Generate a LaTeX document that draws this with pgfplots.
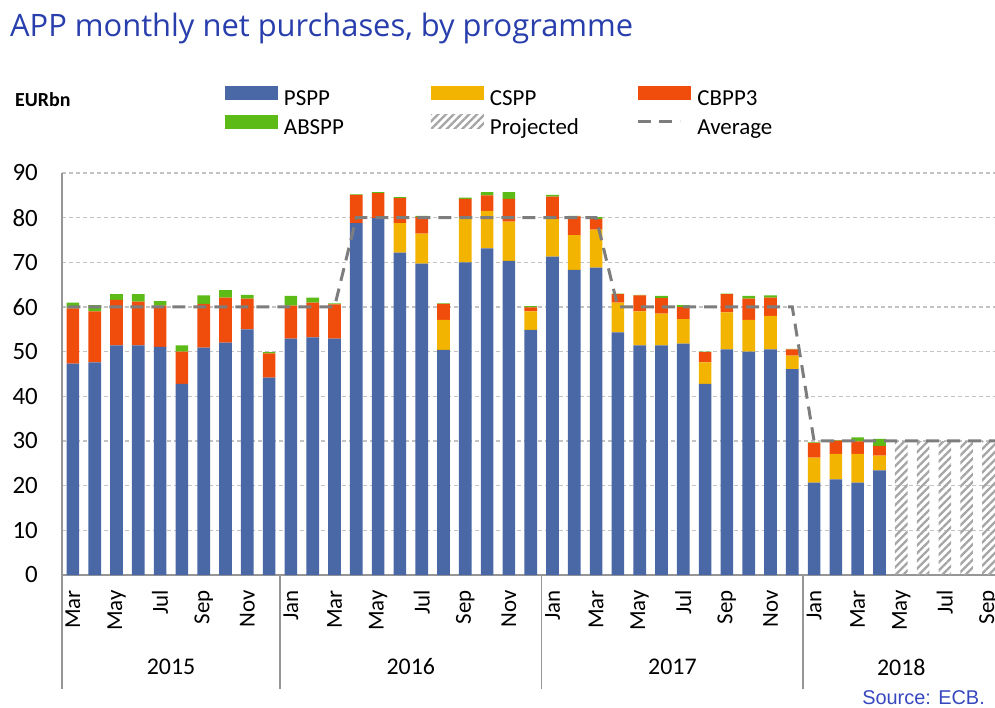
\documentclass[border=0pt]{standalone}
\usepackage{fontspec}
\setmainfont{Carlito}
\newfontfamily\titlefont{Open Sans}
\newfontfamily\srcfont{Liberation Sans}
\usepackage{pgfplots}
\pgfplotsset{compat=1.18}
\usepackage{pgfplotstable}
\usetikzlibrary{patterns.meta}

\definecolor{psppc}{RGB}{74,103,166}
\definecolor{csppc}{RGB}{243,180,0}
\definecolor{cbppc}{RGB}{240,76,12}
\definecolor{absppc}{RGB}{92,187,22}
\definecolor{hatchc}{RGB}{165,165,165}
\definecolor{avgc}{RGB}{125,125,125}
\definecolor{gridc}{RGB}{195,195,195}
\definecolor{axisc}{RGB}{150,150,150}
\definecolor{titleblue}{RGB}{40,62,172}
\definecolor{srcblue}{RGB}{55,72,190}

\pgfplotstableread{
x pspp cspp cbpp abspp proj
0 47.3 0 12.4 1.3 0
1 47.6 0 11.4 1.4 0
2 51.4 0 10.2 1.3 0
3 51.4 0 9.8 1.7 0
4 51.1 0 9.2 1.0 0
5 42.8 0 7.2 1.4 0
6 50.9 0 9.8 1.9 0
7 52.0 0 10.1 1.7 0
8 55.0 0 6.9 0.8 0
9 44.2 0 5.4 0.3 0
10 52.9 0 7.4 2.2 0
11 53.2 0 7.8 1.1 0
12 52.9 0 7.7 0.2 0
13 78.8 0 6.3 0.1 0
14 79.9 0 5.6 0.2 0
15 72.2 6.6 5.6 0.2 0
16 69.7 6.7 3.7 0.3 0
17 50.4 6.7 3.6 0.1 0
18 70.0 10.1 4.1 0.3 0
19 73.1 8.4 3.5 0.7 0
20 70.3 8.8 5.1 1.5 0
21 54.9 4.1 0.9 0.3 0
22 71.3 8.4 5.0 0.4 0
23 68.3 7.8 4.2 0.1 0
24 68.8 8.5 2.4 0.4 0
25 54.3 6.7 1.9 0.1 0
26 51.4 7.6 3.6 0.1 0
27 51.4 7.1 3.5 0.5 0
28 51.8 5.5 2.7 0.4 0
29 42.8 4.8 2.3 0.1 0
30 50.5 8.3 4.1 0.1 0
31 50.0 7.1 4.8 0.6 0
32 50.5 7.5 4.1 0.5 0
33 46.1 3.0 1.4 0.1 0
34 20.7 5.6 3.3 0.1 0
35 21.4 5.7 3.0 0.1 0
36 20.7 6.4 2.8 0.9 0
37 23.4 3.3 2.2 1.6 0
38 0 0 0 0 30
39 0 0 0 0 30
40 0 0 0 0 30
41 0 0 0 0 30
42 0 0 0 0 30
}\datatable

\pgfplotsset{
  swatch/.style={legend image code/.code={\fill[##1] (0bp,0bp) rectangle (53bp,14bp);}},
  avgleg/.style={legend image code/.code={\draw[##1] (0bp,7bp) -- (42bp,7bp);}},
  common/.style={
    scale only axis, width=933bp, height=402bp,
    at={(62bp,133bp)}, anchor=south west,
    xmin=-0.5, xmax=42.3, ymin=0, ymax=90,
  },
}

\begin{document}
\begin{tikzpicture}
\useasboundingbox (0,0) rectangle (995bp,708bp);
\node[anchor=base west, inner sep=0, font=\titlefont\fontsize{31}{34}\selectfont, text=titleblue] at (10bp,671bp) {APP monthly net purchases, by programme};
\node[anchor=base west, inner sep=0, font=\bfseries\fontsize{20}{24}\selectfont] at (15bp,601bp) {EURbn};
\node[anchor=base east, inner sep=0, font=\srcfont\fontsize{20}{22}\selectfont, text=srcblue] at (985bp,4bp) {Source: ECB.};

\begin{axis}[common,
  ybar stacked, bar width=0.58,
  axis x line*=bottom, axis y line*=left,
  axis line style={draw=axisc, line width=1.5bp},
  ytick={0,10,...,90},
  xtick={0,2,...,42},
  xticklabels={Mar,May,Jul,Sep,Nov,Jan,Mar,May,Jul,Sep,Nov,Jan,Mar,May,Jul,Sep,Nov,Jan,Mar,May,Jul,Sep},
  major tick length=0pt,
  xticklabel style={rotate=90, anchor=east, inner sep=0pt, font=\fontsize{23}{24}\selectfont},
  xticklabel shift=15bp,
  yticklabel style={inner sep=0pt, font=\fontsize{25}{26}\selectfont},
  yticklabel shift=24bp,
  /pgf/number format/assume math mode=true,
  ymajorgrids,
  grid style={draw=gridc, line width=1.2bp, dash pattern=on 3.5bp off 3.5bp},
  clip=false,
]
\addplot[fill=psppc, draw=none] table[x=x, y=pspp] {\datatable};
\addplot[fill=csppc, draw=none] table[x=x, y=cspp] {\datatable};
\addplot[fill=cbppc, draw=none] table[x=x, y=cbpp] {\datatable};
\addplot[fill=absppc, draw=none] table[x=x, y=abspp] {\datatable};
\addplot[draw=none, pattern={Lines[angle=45, distance=5.5bp, line width=2.3bp]}, pattern color=hatchc] table[x=x, y=proj] {\datatable};
\draw[axisc, line width=1.5bp] (axis cs:-0.5,0) -- ([yshift=-114bp]axis cs:-0.5,0);
\draw[axisc, line width=1.5bp] (axis cs:9.5,0) -- ([yshift=-114bp]axis cs:9.5,0);
\draw[axisc, line width=1.5bp] (axis cs:21.5,0) -- ([yshift=-114bp]axis cs:21.5,0);
\draw[axisc, line width=1.5bp] (axis cs:33.5,0) -- ([yshift=-114bp]axis cs:33.5,0);
\node[font=\fontsize{24}{26}\selectfont] at (axis cs:4.5,0) [yshift=-92bp] {2015};
\node[font=\fontsize{24}{26}\selectfont] at (axis cs:15.5,0) [yshift=-92bp] {2016};
\node[font=\fontsize{24}{26}\selectfont] at (axis cs:27.5,0) [yshift=-92bp] {2017};
\node[font=\fontsize{24}{26}\selectfont] at (axis cs:38,0) [yshift=-92bp] {2018};
\end{axis}

\begin{axis}[common,
  axis lines=none, xtick=\empty, ytick=\empty,
  legend columns=3,
  legend cell align=left,
  legend style={draw=none, fill=none, inner sep=0pt, outer sep=0pt,
    at={(0.1747,1.2164)}, anchor=north west,
    font=\fontsize{23}{24}\selectfont,
    row sep=4bp,
    nodes={inner xsep=0pt, inner ysep=0pt, text width=147bp, align=left, text height=16bp, text depth=5bp},
    /tikz/every odd column/.append style={column sep=6bp}},
]
\addlegendimage{swatch, fill=psppc, draw=none}
\addlegendentry{PSPP}
\addlegendimage{swatch, fill=csppc, draw=none}
\addlegendentry{CSPP}
\addlegendimage{swatch, fill=cbppc, draw=none}
\addlegendentry{CBPP3}
\addlegendimage{swatch, fill=absppc, draw=none}
\addlegendentry{ABSPP}
\addlegendimage{swatch, draw=none, pattern={Lines[angle=45, distance=5.5bp, line width=2.3bp]}, pattern color=hatchc}
\addlegendentry{Projected}
\addplot[avgleg, sharp plot, no marks, draw=avgc, line width=3bp, dash pattern=on 13bp off 8bp] coordinates {
(-0.25,60) (12,60) (13,80) (24,80) (25,60) (33,60) (34,30) (42.3,30)
};
\addlegendentry{Average}
\end{axis}
\end{tikzpicture}
\end{document}
